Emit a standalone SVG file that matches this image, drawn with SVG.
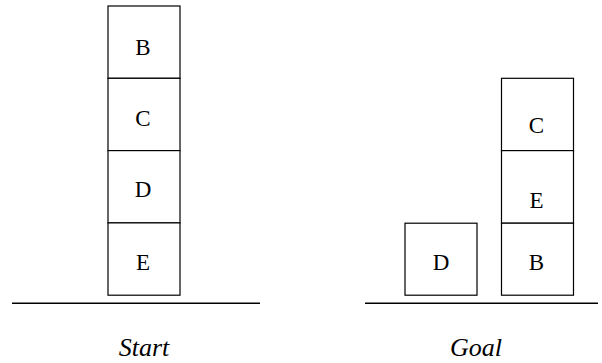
<svg xmlns="http://www.w3.org/2000/svg" width="602" height="363" viewBox="0 0 602 363">
  <style>
    .block rect { fill: #fff; stroke: #000; stroke-width: 1.2; }
    .block text { font-family: "Liberation Serif", "Times New Roman", serif; font-size: 23px; text-anchor: middle; fill: #000; }
    .ground { stroke: #000; stroke-width: 1.4; }
    .caption { font-family: "Liberation Serif", "Times New Roman", serif; font-style: italic; font-size: 26px; text-anchor: middle; fill: #000; }
  </style>
  <rect width="602" height="363" fill="#fff"/>

  <!-- Start stack: B on C on D on E -->
  <g id="start-B" class="block"><rect x="108" y="6" width="72" height="72.3"/><text x="143" y="55">B</text></g>
  <g id="start-C" class="block"><rect x="108" y="78.3" width="72" height="72.3"/><text x="143" y="126">C</text></g>
  <g id="start-D" class="block"><rect x="108" y="150.6" width="72" height="72.3"/><text x="143" y="197">D</text></g>
  <g id="start-E" class="block"><rect x="108" y="222.9" width="72" height="72.3"/><text x="143" y="270">E</text></g>

  <!-- Goal: D alone, C on E on B -->
  <g id="goal-D" class="block"><rect x="405" y="223.2" width="72" height="72"/><text x="441" y="270">D</text></g>
  <g id="goal-C" class="block"><rect x="501.5" y="78.3" width="72" height="72.3"/><text x="536.5" y="133">C</text></g>
  <g id="goal-E" class="block"><rect x="501.5" y="150.6" width="72" height="72.6"/><text x="536.5" y="208">E</text></g>
  <g id="goal-B" class="block"><rect x="501.5" y="223.2" width="72" height="72"/><text x="536.5" y="270">B</text></g>

  <!-- table surfaces -->
  <g id="ground">
    <line class="ground" x1="12" y1="303.3" x2="260" y2="303.3"/>
    <line class="ground" x1="365" y1="303.3" x2="598" y2="303.3"/>
  </g>

  <text class="caption" x="144" y="356">Start</text>
  <text class="caption" x="476" y="356">Goal</text>
</svg>
